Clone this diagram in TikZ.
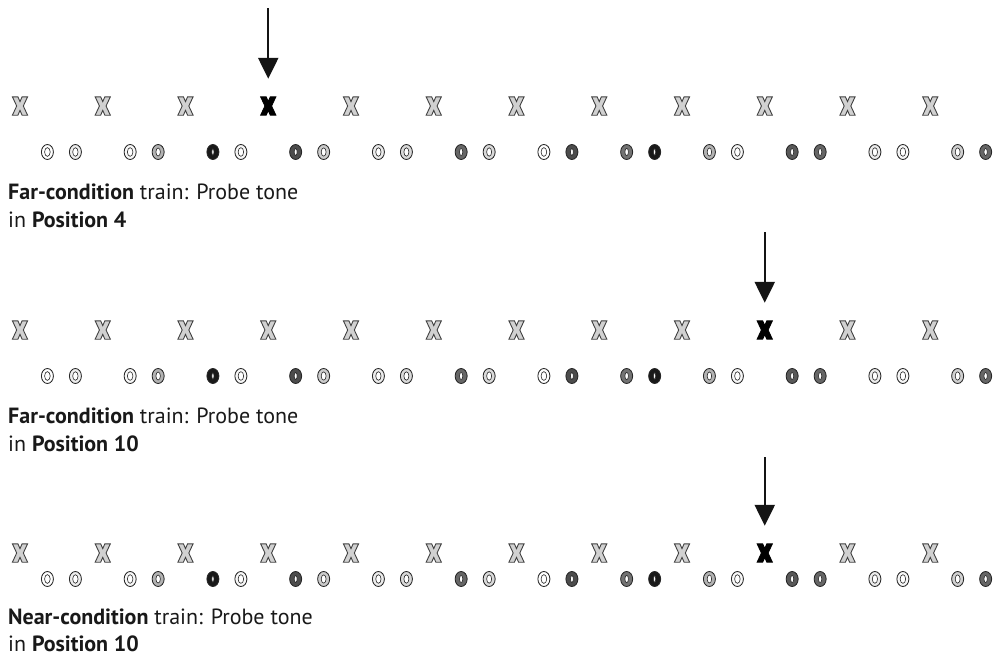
\documentclass[tikz,border=0pt]{standalone}
\usepackage{fontspec}
\setmainfont{PT Sans}
\usetikzlibrary{arrows.meta}
\tikzset{
  xsym/.pic={\path[pic actions] (-7.6,-9.2) -- (-2.1,-9.2) -- (0,-4.4) -- (2.1,-9.2) -- (7.6,-9.2) -- (3.3,0) -- (7.6,9.2) -- (2.1,9.2) -- (0,4.4) -- (-2.1,9.2) -- (-7.6,9.2) -- (-3.3,0) -- cycle;},
  otone/.pic={
    \pgfmathsetmacro\orx{2.8-0.019*#1}
    \pgfmathsetmacro\ory{4.4-0.013*#1}
    \path[draw=black!85,line width=0.85pt,fill=black!#1] (0,0) ellipse [x radius=6.0,y radius=7.5];
    \path[draw=black!85,line width=0.6pt,fill=white] (0,0) ellipse [x radius=\orx,y radius=\ory];
  },
  xnode/.style={inner sep=0pt,minimum width=15pt,minimum height=18pt},
  xmark/.style={draw=black!75,line width=0.9pt,fill=black!18},
  probemark/.style={draw=black,line width=0.9pt,fill=black},
  probearrow/.style={draw=black!92,line width=2.4pt,-{Triangle[width=20pt,length=21pt]},shorten >=18pt},
  caption/.style={anchor=base west,inner sep=0pt,font=\fontsize{22}{26}\selectfont,text=black!90}
}
\begin{document}
\begin{tikzpicture}[x=1pt,y=-1pt]
\useasboundingbox (0,0) rectangle (994,656);
\def\tones{0,7,3,30,90,3,70,20,8,15,60,15,0,70,55,90,30,3,65,60,8,3,18,60}
\foreach \r/\xy/\oy/\probe in {1/106/152/4, 2/330/376/10, 3/553/579/10}{
  \foreach \k in {1,...,12}{
    \pgfmathsetmacro\xx{20+82.75*(\k-1)}
    \node[xnode] (r\r x\k) at (\xx,\xy) {};
    \ifnum\k=\probe
      \pic[probemark] at (r\r x\k) {xsym};
    \else
      \pic[xmark] at (r\r x\k) {xsym};
    \fi
  }
  \foreach \t [count=\i] in \tones{
    \pgfmathsetmacro\ox{61.4+82.75*int((\i-1)/2)+28*(mod(\i-1,2))-14}
    \pic at (\ox,\oy) {otone=\t};
  }
}
\coordinate (a1) at (268.25,8);
\coordinate (a2) at (764.75,232);
\coordinate (a3) at (764.75,457);
\draw[probearrow] (a1) -- (r1x4.north);
\draw[probearrow] (a2) -- (r2x10.north);
\draw[probearrow] (a3) -- (r3x10.north);
\node[caption] (c1a) at (8,199) {\textbf{Far-condition} train: Probe tone};
\node[caption] (c1b) at (8,227) {in \textbf{Position 4}};
\node[caption] (c2a) at (8,423) {\textbf{Far-condition} train: Probe tone};
\node[caption] (c2b) at (8,451) {in \textbf{Position 10}};
\node[caption] (c3a) at (8,624) {\textbf{Near-condition} train: Probe tone};
\node[caption] (c3b) at (8,651) {in \textbf{Position 10}};
\end{tikzpicture}
\end{document}
